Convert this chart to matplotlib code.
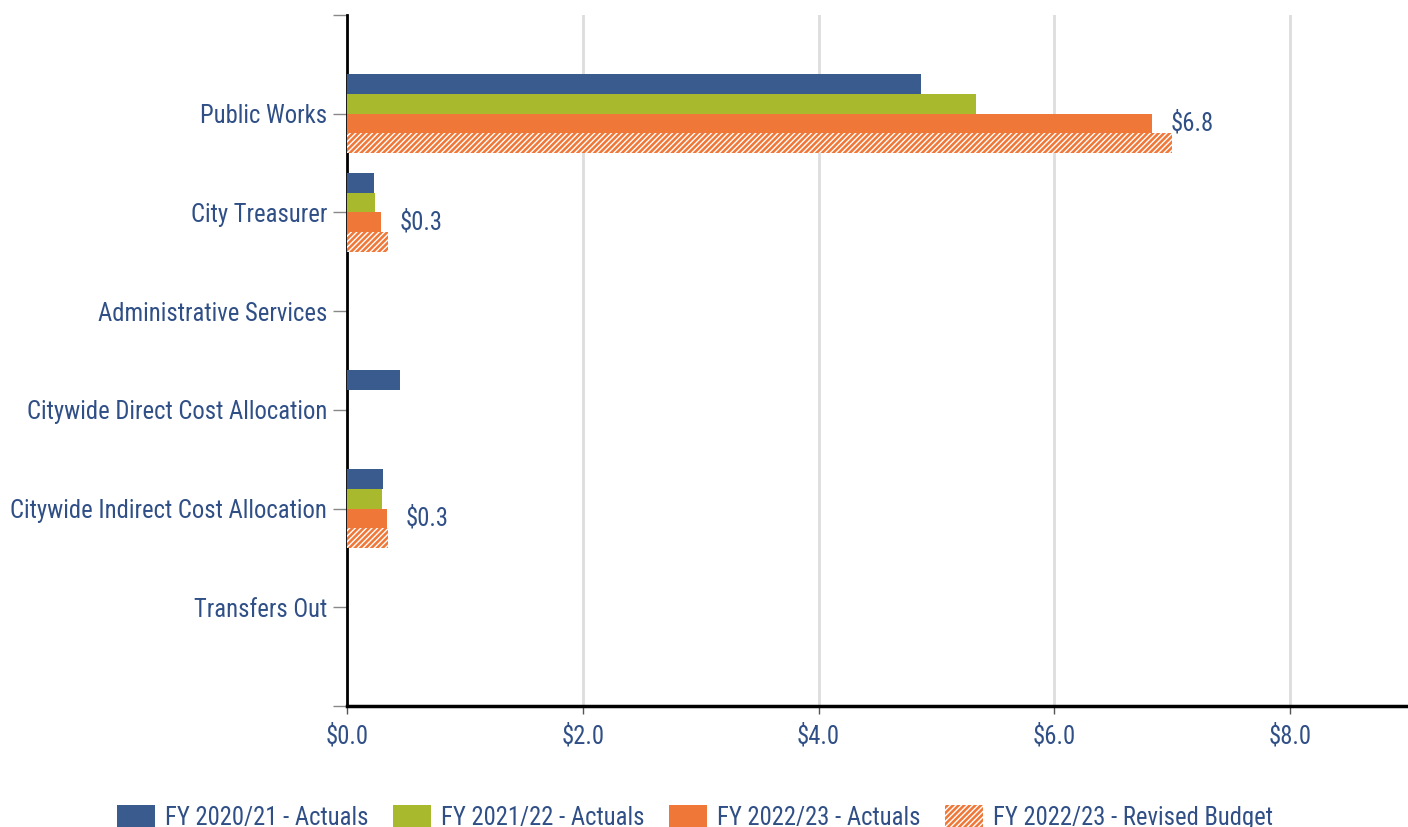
import matplotlib.pyplot as plt
import numpy as np

plt.rcParams['font.family'] = ['Roboto Condensed', 'Liberation Sans Narrow', 'Roboto', 'DejaVu Sans']
plt.rcParams['hatch.linewidth'] = 1.0

categories = ['Public Works', 'City Treasurer', 'Administrative Services',
              'Citywide Direct Cost Allocation', 'Citywide Indirect Cost Allocation',
              'Transfers Out']
fy2021 = [4.87, 0.23, 0.0, 0.45, 0.31, 0.0]
fy2122 = [5.34, 0.24, 0.0, 0.0, 0.30, 0.0]
fy2223 = [6.83, 0.29, 0.0, 0.0, 0.34, 0.0]
fy2223_budget = [7.0, 0.35, 0.0, 0.0, 0.35, 0.0]
series_names = ['FY 2020/21 - Actuals', 'FY 2021/22 - Actuals',
                'FY 2022/23 - Actuals', 'FY 2022/23 - Revised Budget']

blue = '#3a5b8d'
green = '#a9b92d'
orange = '#ef7839'
txt = '#2f4f86'
fs = 17.7

fig = plt.figure(figsize=(14.08, 8.27), dpi=100)
ax = fig.add_axes([0.2464, 0.1463, 0.7536, 0.8356])

y = np.arange(len(categories))
h = 0.2
ax.barh(y - 0.3, fy2021, h, color=blue, label=series_names[0], zorder=3)
ax.barh(y - 0.1, fy2122, h, color=green, label=series_names[1], zorder=3)
ax.barh(y + 0.1, fy2223, h, color=orange, label=series_names[2], zorder=3)
ax.barh(y + 0.3, fy2223_budget, h, color=orange, edgecolor='white', hatch='//////',
        linewidth=0, label=series_names[3], zorder=3)

# data labels on the current year actuals
for i, v in enumerate(fy2223):
    if v > 0:
        ax.text(v + 0.16, i + 0.1, '$%.1f' % v, va='center', ha='left',
                fontsize=fs, color=txt)

ax.set_xlim(0, 9)
ax.set_ylim(6, -1)
ax.set_xticks([0, 2, 4, 6, 8])
ax.set_xticklabels(['$%.1f' % t for t in [0, 2, 4, 6, 8]], fontsize=fs, color=txt)
ax.set_yticks(list(range(-1, 7)))
ax.set_yticklabels([''] + categories + [''], fontsize=fs, color=txt)
ax.tick_params(axis='y', length=10, color='#888888', width=1, pad=4.3)
ax.tick_params(axis='x', length=6, color='#555555', width=1, pad=7)

ax.grid(axis='x', color='#dddddd', linewidth=2, zorder=0)
ax.set_axisbelow(True)
for s in ['top', 'right']:
    ax.spines[s].set_visible(False)
ax.spines['left'].set_linewidth(2)
ax.spines['bottom'].set_linewidth(2.5)
ax.spines['left'].set_color('black')
ax.spines['bottom'].set_color('black')

leg = fig.legend(loc='lower center', bbox_to_anchor=(0.4936, -0.03), ncol=4,
                 frameon=False, fontsize=fs, handlelength=1.55, handleheight=1.0,
                 columnspacing=1.0, handletextpad=0.4)
for t in leg.get_texts():
    t.set_color(txt)

fig.savefig('out.png', dpi=100)
